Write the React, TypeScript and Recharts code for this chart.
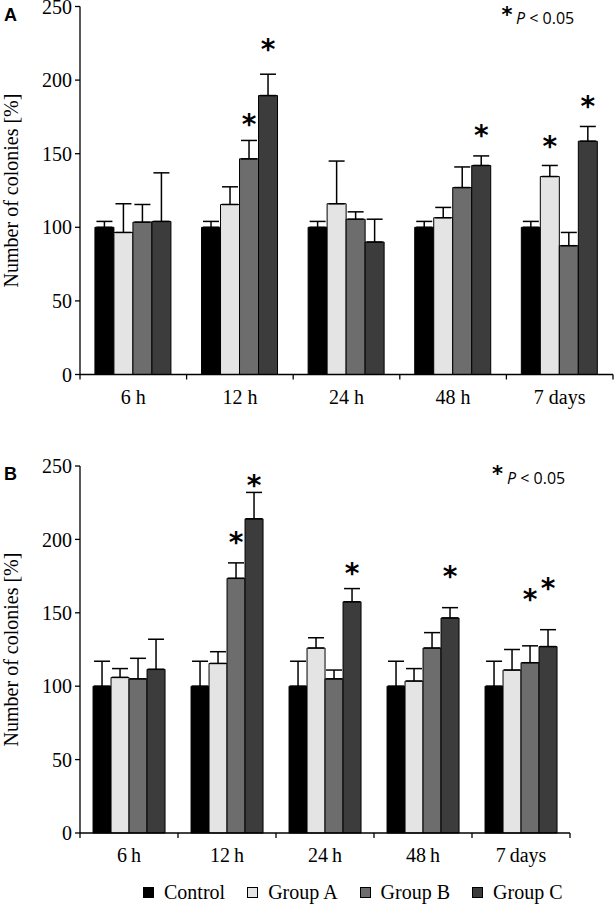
import { BarChart, Bar, XAxis, YAxis, ErrorBar, LabelList, Legend } from 'recharts'

const SERIF = '"Liberation Serif", "Times New Roman", serif'
const SANS = '"Open Sans", "Liberation Sans", sans-serif'

const timePointsA = ['6 h', '12 h', '24 h', '48 h', '7 days']
const timePointsB = ['6\u2009h', '12\u2009h', '24\u2009h', '48\u2009h', '7\u2009days']
const groupNames = ['Control', 'Group A', 'Group B', 'Group C']
const groupKeys = ['control', 'groupA', 'groupB', 'groupC']
const groupColors = ['#000000', '#e4e4e4', '#6d6d6d', '#3c3c3c']
const yTicks = [0, 50, 100, 150, 200, 250]
const noStars = [null, null, null, null, null]

// panel A: colonies in % of control, with upper SD
const aControl = [100, 100, 100, 100, 100]
const aGroupA = [96.5, 115.5, 116, 106.5, 134.5]
const aGroupB = [103.5, 146.5, 105.5, 127, 87.5]
const aGroupC = [104, 189.5, 90, 142, 158.5]
const aControlSd = [4, 4, 4, 4, 4]
const aGroupASd = [19.5, 12, 29, 7, 7.5]
const aGroupBSd = [12, 12.5, 5, 14, 9]
const aGroupCSd = [33, 14.5, 15.5, 6.5, 10]
// level of the significance asterisk (same units as the y axis)
const aGroupAStar = [null, null, null, null, 159]
const aGroupBStar = [null, 174.5, null, null, null]
const aGroupCStar = [null, 225.5, null, 167, 186.5]

// panel B
const bControl = [100, 100, 100, 100, 100]
const bGroupA = [106, 115.5, 126, 103.5, 111]
const bGroupB = [105, 173.5, 105, 126, 116]
const bGroupC = [111.5, 214, 157.5, 146.5, 127]
const bControlSd = [17, 17, 17, 17, 17]
const bGroupASd = [6, 8, 7, 8.5, 14]
const bGroupBSd = [14, 10.5, 6, 10.5, 11.5]
const bGroupCSd = [20.5, 18, 9, 7, 11.5]
const bGroupBStar = [null, 202, null, null, 163.5]
const bGroupCStar = [null, 241, 181.5, 179, 171]

type Row = Record<string, any>

function buildRows(labels: string[], values: number[][], sds: number[][], stars: (number | null)[][]) {
  return labels.map((label, i) => {
    const row: Row = { label }
    groupKeys.forEach((k, s) => {
      row[k] = values[s][i]
      row[k + 'Sd'] = [0, sds[s][i]] // only the upper whisker is drawn
      row[k + 'Star'] = stars[s][i]
    })
    return row
  })
}

const rowsA = buildRows(
  timePointsA,
  [aControl, aGroupA, aGroupB, aGroupC],
  [aControlSd, aGroupASd, aGroupBSd, aGroupCSd],
  [noStars, aGroupAStar, aGroupBStar, aGroupCStar],
)
const rowsB = buildRows(
  timePointsB,
  [bControl, bGroupA, bGroupB, bGroupC],
  [bControlSd, bGroupASd, bGroupBSd, bGroupCSd],
  [noStars, noStars, bGroupBStar, bGroupCStar],
)

const axisStyle = { stroke: '#000', strokeWidth: 1.3 }

function makeXTick(band: number) {
  return (props: any) => {
    const { x, y, payload, index, visibleTicksCount } = props
    const last = index === visibleTicksCount - 1
    return (
      <g>
        <line x1={x - band / 2} x2={x - band / 2} y1={y} y2={y + 5} stroke="#000" strokeWidth={1.3} />
        {last && <line x1={x + band / 2} x2={x + band / 2} y1={y} y2={y + 5} stroke="#000" strokeWidth={1.3} />}
        <text x={x} y={y + 29} textAnchor="middle" fontFamily={SERIF} fontSize={20} fill="#000">
          {payload.value}
        </text>
      </g>
    )
  }
}

function starLabel(rows: Row[], key: string) {
  return (props: any) => {
    const vb = props.viewBox || {}
    const x = props.x ?? vb.x
    const y = props.y ?? vb.y
    const w = props.width ?? vb.width
    const h = props.height ?? vb.height
    const level = props.value
    if (level == null || level === '' || props.index == null) return null
    const v = rows[props.index][key]
    const cy = y + h - (level / v) * h
    return (
      <text x={x + w / 2} y={cy + 16} textAnchor="middle" fontFamily="DejaVu Sans" fontWeight="bold" fontSize={28} fill="#000">
        *
      </text>
    )
  }
}

const yTitle = (props: any) => {
  const vb = props.viewBox
  const cx = vb.x + 1
  const cy = vb.y + vb.height / 2
  return (
    <text x={cx} y={cy} transform={`rotate(-90 ${cx} ${cy})`} textAnchor="middle" dominantBaseline="central" fontFamily={SERIF} fontSize={20} fill="#000">
      Number of colonies [%]
    </text>
  )
}

const renderLegend = (props: any) => (
  <div style={{ height: 24, display: 'flex', alignItems: 'center', paddingLeft: 143, fontFamily: SERIF, fontSize: 20, lineHeight: '24px', color: '#000' }}>
    {(props.payload || []).map((p: any, i: number) => (
      <div key={i} style={{ display: 'flex', alignItems: 'center', marginRight: 22 }}>
        <span style={{ display: 'inline-block', width: 11, height: 11, boxSizing: 'border-box', background: p.color || groupColors[i], border: '1px solid #000', marginRight: 10 }} />
        <span>{p.value}</span>
      </div>
    ))}
  </div>
)

function Panel({ rows, height, margin, band, gap, xHeight, legend }: any) {
  return (
    <BarChart width={614} height={height} data={rows} margin={margin} barCategoryGap={gap} barGap={0}>
      <XAxis dataKey="label" height={xHeight} interval={0} tickSize={0} tickMargin={0} tickLine={false} axisLine={axisStyle} tick={makeXTick(band)} />
      <YAxis
        domain={[0, 250]}
        ticks={yTicks}
        interval={0}
        width={70}
        tickSize={5}
        tickMargin={3}
        axisLine={axisStyle}
        tickLine={axisStyle}
        tick={{ fontFamily: SERIF, fontSize: 20, fill: '#000' }}
        label={{ content: yTitle }}
      />
      {groupKeys.map((k, i) => (
        <Bar key={k} dataKey={k} name={groupNames[i]} fill={groupColors[i]} stroke="#000" strokeWidth={1} isAnimationActive={false}>
          <ErrorBar dataKey={k + 'Sd'} direction="y" width={8} stroke="#000" strokeWidth={1.5} />
          <LabelList dataKey={k + 'Star'} content={starLabel(rows, k)} />
        </Bar>
      ))}
      {legend && <Legend verticalAlign="bottom" align="left" wrapperStyle={{ left: 0, width: 614, bottom: 1 }} content={renderLegend} />}
    </BarChart>
  )
}

export default function App() {
  return (
    <div style={{ position: 'absolute', left: 0, top: 0, width: 614, height: 905, background: '#fff' }}>
      <div style={{ position: 'absolute', left: 0, top: 0 }}>
        <Panel rows={rowsA} height={440} margin={{ top: 6.5, right: 1, left: 10, bottom: 31.5 }} band={533 / 5} gap="14%" xHeight={34} />
      </div>
      <div style={{ position: 'absolute', left: 0, top: 440 }}>
        <Panel rows={rowsB} height={465} margin={{ top: 26, right: 44, left: 10, bottom: 1 }} band={490 / 5} gap="13.3%" xHeight={47} legend />
      </div>
      <svg width={614} height={905} style={{ position: 'absolute', left: 0, top: 0, pointerEvents: 'none' }}>
        <text x={4} y={21} fontFamily="Liberation Sans" fontWeight="bold" fontSize={18} fill="#000">A</text>
        <text x={4} y={480} fontFamily="Liberation Sans" fontWeight="bold" fontSize={18} fill="#000">B</text>
        <text x={507} y={21.5} textAnchor="middle" fontFamily="DejaVu Sans" fontWeight="bold" fontSize={21} fill="#000">*</text>
        <text x={516} y={24} fontFamily={SANS} fontSize={16} fill="#000">
          <tspan fontStyle="italic">P</tspan> &lt; 0.05
        </text>
        <text x={497.5} y={481} textAnchor="middle" fontFamily="DejaVu Sans" fontWeight="bold" fontSize={21} fill="#000">*</text>
        <text x={507} y={483.5} fontFamily={SANS} fontSize={16} fill="#000">
          <tspan fontStyle="italic">P</tspan> &lt; 0.05
        </text>
      </svg>
    </div>
  )
}
